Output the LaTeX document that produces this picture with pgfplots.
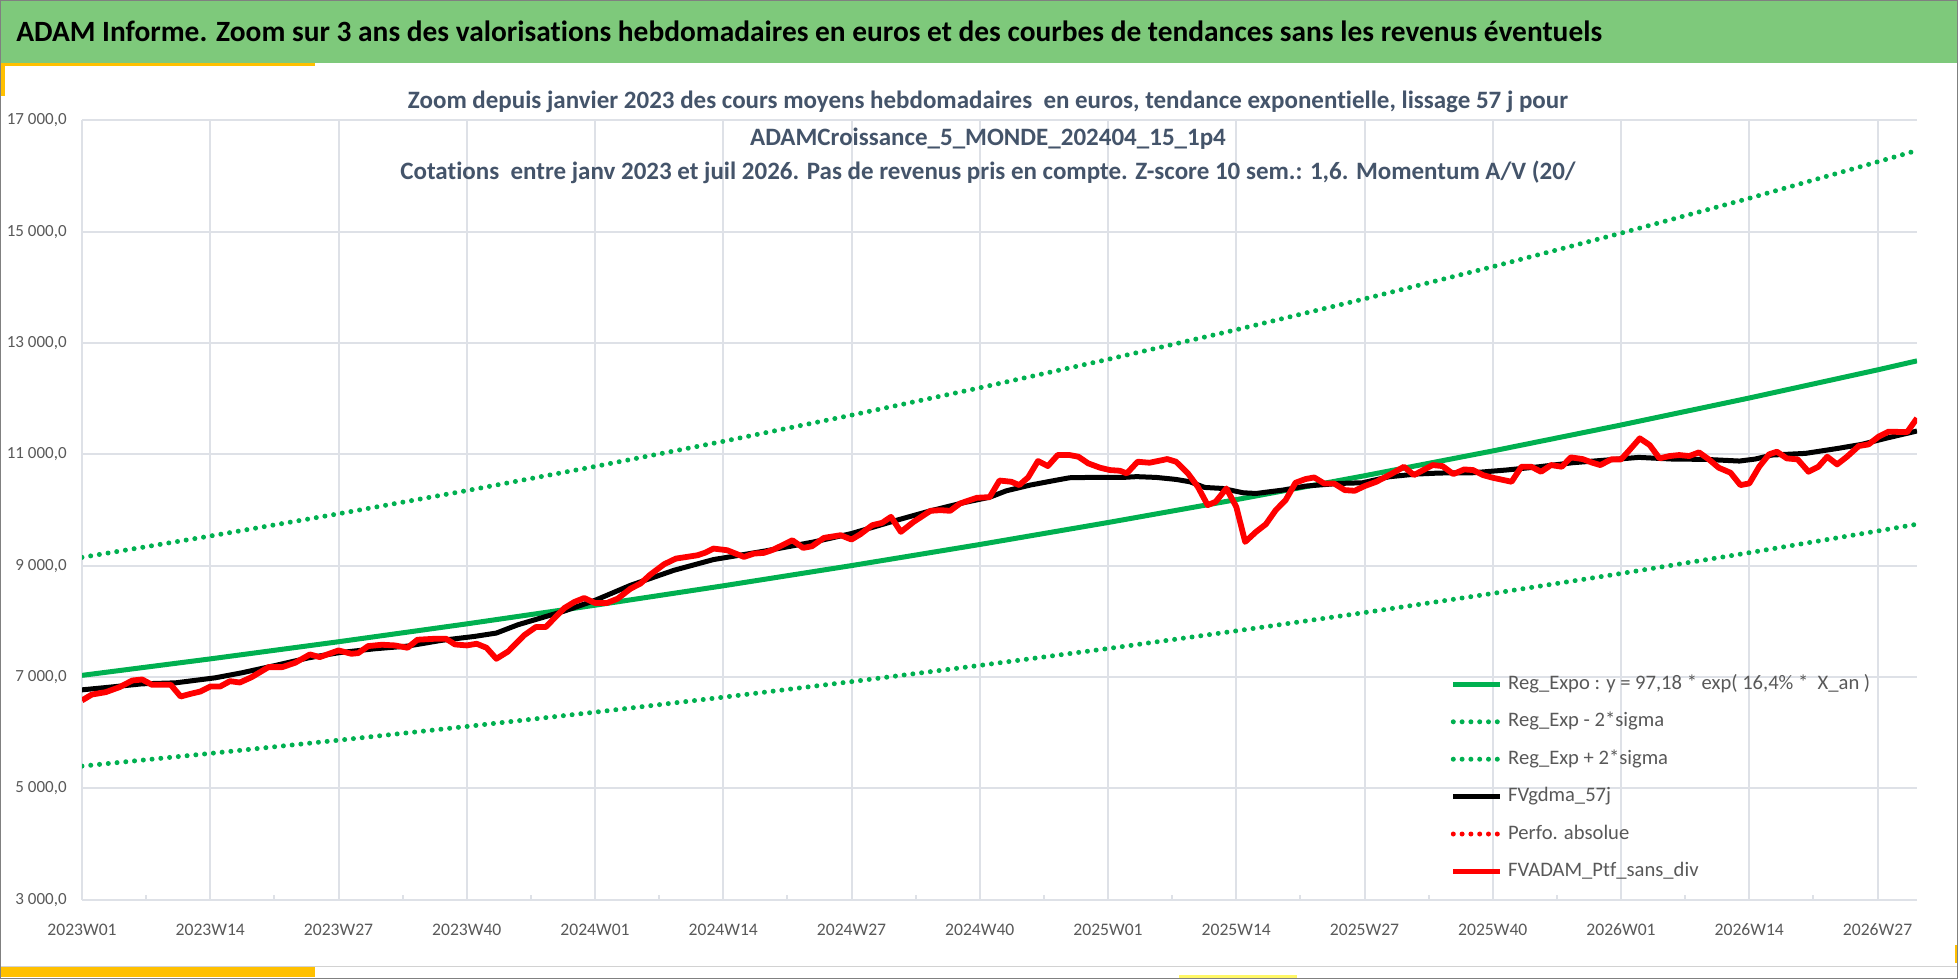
\documentclass[border=0pt]{standalone}
\usepackage{fontspec}
\setmainfont{Carlito}[Ligatures=CommonOff]
\usepackage{pgfplots}
\pgfplotsset{compat=1.18}
\definecolor{xlgreen}{RGB}{0,176,80}
\definecolor{titlegreen}{RGB}{126,201,123}
\definecolor{gold}{RGB}{255,192,0}
\definecolor{subt}{RGB}{68,84,106}
\definecolor{tickgray}{RGB}{89,89,89}
\definecolor{gridc}{RGB}{222,225,231}
\definecolor{xlred}{RGB}{255,0,0}

\pgfplotstableread{
w v
0 7030
13 7326
26 7634
39 7955
52 8290
65 8639
78 9002
91 9381
104 9776
117 10187
130 10616
143 11062
156 11528
169 12013
182 12518
186 12680
}\trtab
\pgfplotstableread{
w v
0 5400
13 5628
26 5865
39 6112
52 6369
65 6638
78 6917
91 7209
104 7512
117 7829
130 8158
143 8502
156 8860
169 9234
182 9623
186 9746
}\lowtab
\pgfplotstableread{
w v
0 9150
13 9533
26 9933
39 10349
52 10783
65 11234
78 11705
91 12196
104 12707
117 13239
130 13794
143 14372
156 14974
169 15601
182 16255
186 16460
}\uptab
\pgfplotstableread{
w v
0 6770
2.8 6818
6.1 6878
9.5 6896
13.5 6986
16.2 7076
19.6 7208
23 7346
26 7436
29.7 7508
33 7556
36.4 7658
39.8 7730
42 7790
44.2 7940
46.5 8060
48.9 8186
52 8378
55.6 8648
60 8918
64 9110
69.1 9260
74.2 9428
78 9578
82.6 9818
86 9986
89.3 10130
92 10230
93.7 10346
96.1 10448
98.8 10538
100.1 10580
102.1 10586
105.5 10586
106.9 10600
108.9 10586
110.9 10550
112.3 10508
113.8 10406
115.6 10388
117.7 10310
119 10298
121.7 10358
124 10430
127.4 10478
129.8 10490
132.5 10598
135.2 10646
137.6 10665
141 10670
144.3 10718
147.7 10778
151.1 10850
154.5 10898
157.8 10946
161.2 10916
164.6 10910
168 10880
169.6 10916
171.3 10988
174.7 11018
178 11108
180.4 11180
183.1 11300
186 11420
}\smtab
\pgfplotstableread{
w v
0 6580
1 6686
2.4 6728
3.8 6818
5.1 6938
6.1 6956
7.1 6860
9 6860
10 6650
11 6698
12 6740
13 6830
14 6830
15 6926
16 6902
17.2 6998
18.9 7178
20.3 7178
21.6 7256
23.1 7406
24.1 7358
26 7478
27.3 7418
28 7430
29 7556
30.4 7580
31.7 7568
33 7526
34 7670
35.8 7688
36.9 7688
37.8 7586
39 7568
40 7598
41 7526
42 7328
43.2 7460
44.8 7748
46 7898
47 7898
48.9 8240
49.9 8348
50.9 8420
52 8330
53.2 8330
54.3 8408
55.6 8588
56.6 8678
57.6 8840
59 9026
60.2 9128
61.3 9158
62.4 9188
63.2 9236
64 9308
65.4 9278
67.1 9158
68.1 9218
69.1 9230
70.1 9290
72 9458
73.1 9320
74 9350
75.2 9500
76.9 9548
78 9470
78.9 9566
80.1 9728
81.1 9770
82 9878
83 9608
84.3 9788
86 9986
87 9998
88 9986
89 10118
90.7 10220
92 10232
93 10530
94.2 10508
95 10448
95.9 10586
96.9 10880
97.9 10790
98.9 10988
100.1 10988
101 10958
102 10838
103.2 10760
104.2 10718
105.2 10706
105.9 10658
107 10868
108.2 10850
109.2 10886
110 10916
110.9 10868
112.1 10658
113.1 10418
114.1 10088
114.9 10148
116 10388
117 10058
117.9 9428
119 9608
120 9746
121 9998
122 10178
123 10490
124 10556
124.9 10586
125.9 10478
126.9 10478
128 10358
129 10346
130 10430
131.2 10508
132.8 10658
134 10778
135 10628
136.9 10808
137.9 10790
139 10646
140.1 10730
141 10718
142 10628
143 10580
144.9 10508
145.9 10778
146.9 10778
147.9 10688
148.9 10808
150 10778
150.9 10946
152.1 10916
153.1 10850
153.9 10808
155 10910
156 10910
156.8 11066
157.9 11288
158.9 11168
159.9 10928
160.9 10970
161.9 10988
162.9 10970
163.9 11036
164.9 10910
165.9 10760
167.1 10670
168.1 10448
169 10478
170 10778
171 11000
171.8 11048
172.8 10928
173.9 10910
175 10688
176 10778
176.9 10958
177.9 10820
178.9 10958
180.1 11150
181.1 11180
182.1 11318
183.1 11408
185 11400
186 11650
}\ptftab

\begin{document}
\begin{tikzpicture}[x=1pt,y=1pt]
\path[use as bounding box] (0,0) rectangle (979,489.5);
\fill[white] (0,0) rectangle (979,489.5);
% title bar
\fill[titlegreen] (0,458) rectangle (979,489.5);
\fill[gold] (0,456.5) rectangle (157.5,458);
\fill[gold] (0,441.5) rectangle (2.5,456.5);
\fill[gold] (0,1) rectangle (157.5,6);
\fill[yellow!60] (589.5,0.5) rectangle (648.5,2);
\fill[gold] (977.5,8) rectangle (979,17);
\draw[gray!35, line width=0.5pt] (0,6) -- (979,6);
\node[anchor=base west, inner sep=0pt, font=\bfseries\fontsize{14.7}{17}\selectfont] at (8,468.6)
  {ADAM Informe. Zoom sur 3 ans des valorisations hebdomadaires en euros et des courbes de tendances sans les revenus éventuels};

\begin{axis}[
  at={(41pt,39.65pt)}, anchor=south west,
  scale only axis, width=917.5pt, height=389.65pt,
  xmin=0, xmax=186, ymin=3000, ymax=17000,
  scaled y ticks=false, scaled x ticks=false,
  axis x line=bottom, axis y line=left,
  axis line style={gridc, line width=1pt, -},
  grid=major, major grid style={gridc, line width=1pt},
  xtick={0,13,...,182},
  xticklabels={2023W01,2023W14,2023W27,2023W40,2024W01,2024W14,2024W27,2024W40,2025W01,2025W14,2025W27,2025W40,2026W01,2026W14,2026W27},
  minor xtick={6.5,19.5,...,182},
  tick align=inside,
  major tick length=2.5pt, minor tick length=2.5pt,
  xtick style={gridc, line width=1pt},
  minor x tick style={gridc, line width=1pt},
  ytick={3000,5000,...,17000},
  yticklabels={{3 000,0},{5 000,0},{7 000,0},{9 000,0},{11 000,0},{13 000,0},{15 000,0},{17 000,0}},
  ytick style={draw=none},
  xticklabel style={font=\fontsize{8.8}{10}\selectfont, text=tickgray, anchor=base, inner sep=0pt, yshift=-18pt},
  yticklabel style={font=\fontsize{8.5}{10}\selectfont, text=tickgray, anchor=east, inner sep=0pt, xshift=-7.5pt},
  legend style={draw=none, fill=none, at={(0.7455,0.290)}, anchor=north west,
    font=\fontsize{10.3}{12}\selectfont, text=tickgray, inner sep=0pt,
    row sep=8.4pt, column sep=2.5pt,
    nodes={inner sep=0pt, text height=7.7pt, text depth=2.6pt}},
  legend cell align=left,
  legend image code/.code={\draw[#1] (0pt,0pt) -- (23.5pt,0pt);},
  clip=true,
]
\addplot[xlgreen, line width=2.5pt, line join=round] table[x=w,y=v] {\trtab};
\addlegendentry{Reg\_Expo : y = 97,18 * exp( 16,4\% *\ \ X\_an )}
\addplot[xlgreen, line width=2.5pt, line cap=round, dash pattern=on 0pt off 4.4pt] table[x=w,y=v] {\lowtab};
\addlegendentry{Reg\_Exp - 2*sigma}
\addplot[xlgreen, line width=2.5pt, line cap=round, dash pattern=on 0pt off 4.4pt] table[x=w,y=v] {\uptab};
\addlegendentry{Reg\_Exp + 2*sigma}
\addplot[black, line width=2.5pt, line join=round] table[x=w,y=v] {\smtab};
\addlegendentry{FVgdma\_57j}
\addlegendimage{xlred, line width=2.5pt, line cap=round, dash pattern=on 0pt off 4.4pt}
\addlegendentry{Perfo. absolue}
\addplot[xlred, line width=2.9pt, line join=round] table[x=w,y=v] {\ptftab};
\addlegendentry{FVADAM\_Ptf\_sans\_div}
\end{axis}

\node[anchor=base, inner sep=0pt, text=subt, font=\bfseries\fontsize{12.5}{14}\selectfont] at (494,435)
  {Zoom depuis janvier 2023 des cours moyens hebdomadaires\ \ en euros, tendance exponentielle, lissage 57 j pour};
\node[anchor=base, inner sep=0pt, text=subt, font=\bfseries\fontsize{12.5}{14}\selectfont] at (494,416.5)
  {ADAMCroissance\_5\_MONDE\_202404\_15\_1p4};
\node[anchor=base, inner sep=0pt, text=subt, font=\bfseries\fontsize{12.5}{14}\selectfont] at (494,399.5)
  {Cotations\ \ entre janv 2023 et juil 2026. Pas de revenus pris en compte. Z-score 10 sem.: 1,6. Momentum A/V (20/};
\draw[gray, line width=0.5pt] (0.25,0.25) rectangle (978.75,489.25);
\end{tikzpicture}
\end{document}
